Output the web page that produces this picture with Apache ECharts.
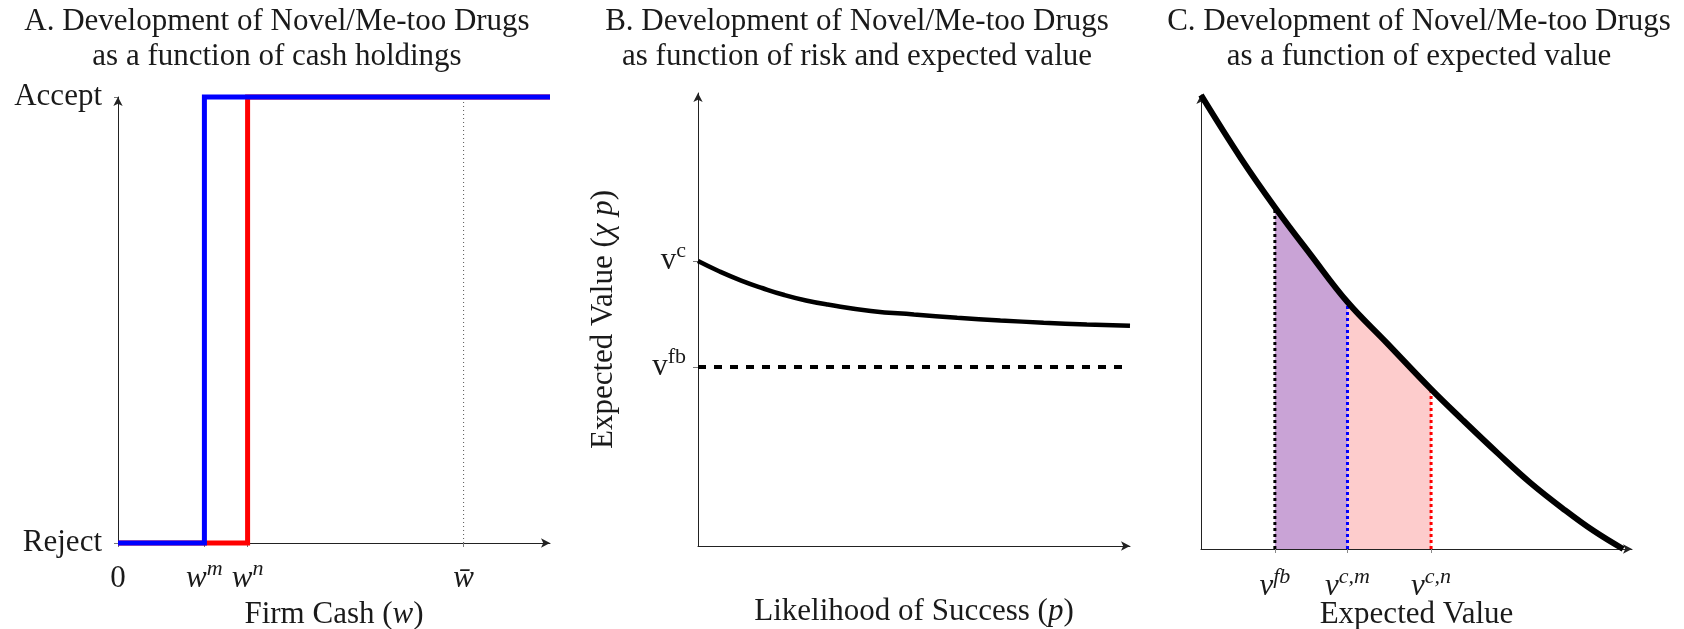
<!DOCTYPE html>
<html>
<head>
<meta charset="utf-8">
<script src="https://cdn.jsdelivr.net/npm/echarts@6/dist/echarts.min.js"></script>
<style>
  html, body { margin: 0; padding: 0; background: #fff; }
  #chart { width: 1684px; height: 629px; }
</style>
</head>
<body>
<div id="chart"></div>
<script>
// ---- Panel A: accept / reject as a function of firm cash ----
const cashTicks = [0, 20, 30, 80];
const cashTickNames = [['0', ''], ['w', 'm'], ['w', 'n'], ['w\u0304', '']];
const decisionLevels = [0, 1];
const decisionNames = ['Reject', 'Accept'];
const metooSteps = [[0, 0], [20, 0], [20, 1], [100, 1]];
const novelSteps = [[0, 0], [30, 0], [30, 1], [100, 1]];
const cashBar = 80;

// ---- Panel B: critical value against likelihood of success ----
const successP = [0, 5, 10, 15, 20, 25, 30, 40, 50, 60, 70, 80, 90, 100];
const criticalValue = [62.9, 60.6, 58.6, 56.9, 55.4, 54.2, 53.3, 51.9, 51.1, 50.4, 49.8, 49.3, 48.9, 48.6];
const firstBestValue = 39.5;
const valueTicks = [39.5, 62.9];
const valueTickNames = ['fb', 'c'];

// ---- Panel C: density over expected value ----
const evX = [0, 9.5, 17.5, 26, 34.7, 44, 54.5, 62, 70.4, 78, 86.3, 93, 100];
const evY = [100, 86.0, 75.3, 64.8, 54.4, 45.4, 35.2, 28.4, 21.0, 14.6, 8.5, 4.0, 0];
const thresholds = [17.5, 34.7, 54.5];
const thresholdNames = ['fb', 'c,m', 'c,n'];

const FONT = 'Liberation Serif';
const INK = '#1a1a1a';
const AXIS = '#222';

const rich = {
  r: { fontFamily: FONT, fontSize: 31, color: INK, lineHeight: 40 },
  i: { fontFamily: FONT, fontSize: 31, color: INK, lineHeight: 40, fontStyle: 'italic' },
  s: { fontFamily: FONT, fontSize: 22, color: INK, lineHeight: 20, fontStyle: 'italic', padding: [0, 0, 20, 0] },
  u: { fontFamily: FONT, fontSize: 22, color: INK, lineHeight: 20, padding: [0, 0, 20, 0] }
};
const nameRich = {
  r: { fontFamily: FONT, fontSize: 31, color: INK, lineHeight: 34 },
  i: { fontFamily: FONT, fontSize: 31, color: INK, lineHeight: 34, fontStyle: 'italic' }
};

function idxOf(arr, v) {
  for (let k = 0; k < arr.length; k++) if (Math.abs(arr[k] - v) < 1e-6) return k;
  return -1;
}

const pts = (xs, ys) => xs.map((x, k) => [x, ys[k]]);
const curveC = pts(evX, evY);
const curveAt = x => evY[idxOf(evX, x)];
const between = (a, b) => curveC.filter(p => p[0] >= a - 1e-9 && p[0] <= b + 1e-9);

const arrowLine = {
  show: true,
  symbol: ['none', 'arrow'],
  symbolSize: [7, 9],
  lineStyle: { color: AXIS, width: 1 }
};

const titleStyle = { fontFamily: FONT, fontSize: 31, fontWeight: 'normal', lineHeight: 35, color: INK };

const option = {
  animation: false,
  backgroundColor: '#fff',
  title: [
    { text: 'A. Development of Novel/Me-too Drugs\nas a function of cash holdings', left: 277, top: 4, textAlign: 'center', padding: 0, textStyle: titleStyle },
    { text: 'B. Development of Novel/Me-too Drugs\nas function of risk and expected value', left: 857, top: 4, textAlign: 'center', padding: 0, textStyle: titleStyle },
    { text: 'C. Development of Novel/Me-too Drugs\nas a function of expected value', left: 1419, top: 4, textAlign: 'center', padding: 0, textStyle: titleStyle }
  ],
  grid: [
    { left: 118, top: 97, width: 432, height: 446, containLabel: false, outerBoundsMode: 'none' },
    { left: 698, top: 93, width: 432, height: 453, containLabel: false, outerBoundsMode: 'none' },
    { left: 1201, top: 95, width: 431, height: 454, containLabel: false, outerBoundsMode: 'none' }
  ],
  xAxis: [
    {
      gridIndex: 0, type: 'value', min: 0, max: 100,
      axisLine: arrowLine, splitLine: { show: false },
      axisTick: { show: true, customValues: cashTicks, length: 4, lineStyle: { color: '#777' } },
      axisLabel: {
        customValues: cashTicks, margin: 16, rich: rich,
        formatter: v => {
          const n = cashTickNames[idxOf(cashTicks, v)];
          if (!n) return '';
          if (n[0] === '0') return '{r|0}';
          return n[1] ? '{i|' + n[0] + '}{s|' + n[1] + '}' : '{i|' + n[0] + '}';
        }
      },
      name: '{r|Firm Cash (}{i|w}{r|)}', nameLocation: 'middle', nameGap: 55, nameMoveOverlap: false,
      nameTextStyle: { rich: nameRich }
    },
    {
      gridIndex: 1, type: 'value', min: 0, max: 100,
      axisLine: arrowLine, splitLine: { show: false },
      axisTick: { show: false }, axisLabel: { show: false },
      name: '{r|Likelihood of Success (}{i|p}{r|)}', nameLocation: 'middle', nameGap: 49, nameMoveOverlap: false,
      nameTextStyle: { rich: nameRich }
    },
    {
      gridIndex: 2, type: 'value', min: 0, max: 102.1,
      axisLine: arrowLine, splitLine: { show: false },
      axisTick: { show: true, customValues: thresholds, length: 4, lineStyle: { color: '#888' } },
      axisLabel: {
        customValues: thresholds, margin: 18, rich: rich,
        formatter: v => {
          const k = idxOf(thresholds, v);
          return k < 0 ? '' : '{i|v}{s|' + thresholdNames[k] + '}';
        }
      },
      name: '{r|Expected Value}', nameLocation: 'middle', nameGap: 49, nameMoveOverlap: false,
      nameTextStyle: { rich: nameRich }
    }
  ],
  yAxis: [
    {
      gridIndex: 0, type: 'value', min: 0, max: 1,
      axisLine: arrowLine, splitLine: { show: false },
      axisTick: { show: true, customValues: decisionLevels, length: 4, lineStyle: { color: '#777' } },
      axisLabel: {
        customValues: decisionLevels, margin: 16,
        fontFamily: FONT, fontSize: 31, color: INK,
        formatter: v => decisionNames[idxOf(decisionLevels, v)] || ''
      }
    },
    {
      gridIndex: 1, type: 'value', min: 0, max: 100,
      axisLine: arrowLine, splitLine: { show: false },
      axisTick: { show: true, customValues: valueTicks, length: 5, lineStyle: { color: '#777' } },
      axisLabel: {
        customValues: valueTicks, margin: 12, rich: rich,
        formatter: v => {
          const k = idxOf(valueTicks, v);
          return k < 0 ? '' : '{r|v}{u|' + valueTickNames[k] + '}';
        }
      },
      name: '{r|Expected Value (}{i|\u03c7 p}{r|)}', nameLocation: 'middle', nameGap: 77, nameMoveOverlap: false,
      nameTextStyle: { rich: nameRich }
    },
    {
      gridIndex: 2, type: 'value', min: 0, max: 100,
      axisLine: arrowLine, splitLine: { show: false },
      axisTick: { show: false }, axisLabel: { show: false }
    }
  ],
  series: [
    // Panel A
    {
      type: 'line', xAxisIndex: 0, yAxisIndex: 0, showSymbol: false, silent: true, clip: false,
      data: [[cashBar, 0], [cashBar, 1]],
      lineStyle: { color: '#555', width: 1, type: [1, 3] }, z: 1
    },
    {
      type: 'line', xAxisIndex: 0, yAxisIndex: 0, showSymbol: false, silent: true, clip: false,
      data: novelSteps, lineStyle: { color: '#ff0000', width: 5, cap: 'butt', join: 'miter' }, z: 2
    },
    {
      type: 'line', xAxisIndex: 0, yAxisIndex: 0, showSymbol: false, silent: true, clip: false,
      data: metooSteps, lineStyle: { color: '#0000ff', width: 5, cap: 'butt', join: 'miter' }, z: 3
    },
    // Panel B
    {
      type: 'line', xAxisIndex: 1, yAxisIndex: 1, showSymbol: false, silent: true, clip: false,
      data: [[0, firstBestValue], [100, firstBestValue]],
      lineStyle: { color: '#000', width: 4, type: [8, 8] }
    },
    {
      type: 'line', xAxisIndex: 1, yAxisIndex: 1, showSymbol: false, silent: true, clip: false,
      smooth: true, data: pts(successP, criticalValue),
      lineStyle: { color: '#000', width: 4.5 }
    },
    // Panel C
    {
      type: 'line', xAxisIndex: 2, yAxisIndex: 2, showSymbol: false, silent: true, clip: false,
      smooth: true, data: between(thresholds[1], thresholds[2]),
      lineStyle: { width: 0 }, areaStyle: { color: 'rgb(253,204,204)', opacity: 1 }, z: 1
    },
    {
      type: 'line', xAxisIndex: 2, yAxisIndex: 2, showSymbol: false, silent: true, clip: false,
      smooth: true, data: between(thresholds[0], thresholds[1]),
      lineStyle: { width: 0 }, areaStyle: { color: 'rgb(201,163,214)', opacity: 1 }, z: 1
    },
    {
      type: 'line', xAxisIndex: 2, yAxisIndex: 2, showSymbol: false, silent: true, clip: false,
      data: [[thresholds[0], 0], [thresholds[0], curveAt(thresholds[0])]],
      lineStyle: { color: '#000', width: 3, type: [3, 3] }, z: 2
    },
    {
      type: 'line', xAxisIndex: 2, yAxisIndex: 2, showSymbol: false, silent: true, clip: false,
      data: [[thresholds[1], 0], [thresholds[1], curveAt(thresholds[1])]],
      lineStyle: { color: '#0000ff', width: 3, type: [3, 3] }, z: 2
    },
    {
      type: 'line', xAxisIndex: 2, yAxisIndex: 2, showSymbol: false, silent: true, clip: false,
      data: [[thresholds[2], 0], [thresholds[2], curveAt(thresholds[2])]],
      lineStyle: { color: '#ff0000', width: 3, type: [3, 3] }, z: 2
    },
    {
      type: 'line', xAxisIndex: 2, yAxisIndex: 2, showSymbol: false, silent: true, clip: false,
      smooth: 0.4, data: curveC,
      lineStyle: { color: '#000', width: 6 }, z: 3
    }
  ]
};

const chart = echarts.init(document.getElementById('chart'), null, { renderer: 'canvas' });
chart.setOption(option);
</script>
</body>
</html>
